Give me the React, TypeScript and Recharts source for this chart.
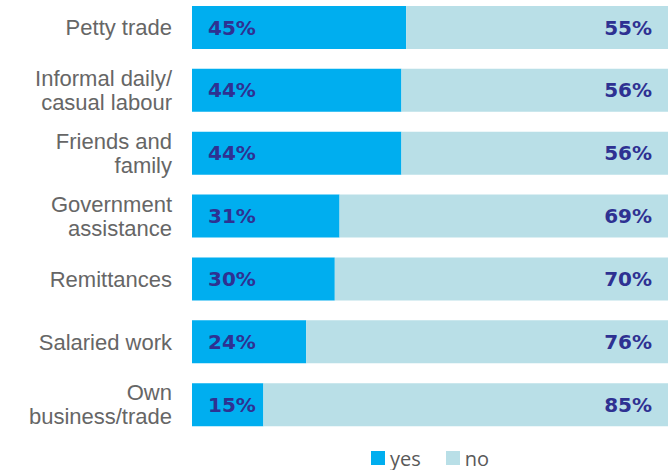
import React from "react";
import { BarChart, Bar, XAxis, YAxis, LabelList } from "recharts";

const categories = [
  "Petty trade",
  "Informal daily/\ncasual labour",
  "Friends and\nfamily",
  "Government\nassistance",
  "Remittances",
  "Salaried work",
  "Own\nbusiness/trade",
];
const yesValues = [45, 44, 44, 31, 30, 24, 15];
const noValues = [55, 56, 56, 69, 70, 76, 85];
const seriesNames = ["yes", "no"];

const YES_COLOR = "#00AEEF";
const NO_COLOR = "#B9DFE7";
const LABEL_COLOR = "#2E3192";

const data = categories.map((c, i) => ({ name: c, yes: yesValues[i], no: noValues[i] }));

const CategoryTick = (props: any) => {
  const { x, y, payload } = props;
  const lines = String(payload.value).split("\n");
  const lh = 24;
  const start = -((lines.length - 1) * lh) / 2;
  return (
    <g transform={`translate(${x},${y})`}>
      {lines.map((l: string, i: number) => (
        <text
          key={i}
          x={0}
          y={start + i * lh}
          dy="0.36em"
          textAnchor="end"
          fill="#666666"
          fontFamily="'Liberation Sans', Arial, sans-serif"
          fontSize={22}
        >
          {l}
        </text>
      ))}
    </g>
  );
};

const LegendContent = () => (
  <div
    style={{
      display: "flex",
      justifyContent: "center",
      alignItems: "center",
      fontFamily: "'Open Sans', sans-serif",
      fontSize: 20,
      color: "#595959",
      height: 28,
    }}
  >
    {seriesNames.map((n, i) => (
      <div key={n} style={{ display: "flex", alignItems: "center", marginLeft: i ? 25 : 0 }}>
        <span style={{ width: 14, height: 14, background: i ? NO_COLOR : YES_COLOR, display: "inline-block", marginRight: 5 }} />
        <span>{n}</span>
      </div>
    ))}
  </div>
);

export default function App() {
  return (
    <div style={{ position: "absolute", left: 0, top: 0, width: 668, height: 470, background: "#fff", overflow: "hidden" }}>
      <BarChart
        width={668}
        height={470}
        data={data}
        layout="vertical"
        margin={{ top: -4, right: 0, bottom: 34, left: 0 }}
        barCategoryGap={10}
      >
        <XAxis type="number" domain={[0, 100]} hide />
        <YAxis
          type="category"
          dataKey="name"
          width={192}
          axisLine={false}
          tickLine={false}
          tick={<CategoryTick />}
          tickMargin={14}
          interval={0}
        />
        <Bar dataKey="yes" stackId="a" fill={YES_COLOR} isAnimationActive={false}>
          <LabelList
            dataKey="yes"
            position="insideLeft"
            offset={16}
            formatter={(v: any) => `${v}%`}
            fill={LABEL_COLOR}
            style={{ fontFamily: "'DejaVu Sans', sans-serif", fontWeight: 700, fontSize: 20 }}
          />
        </Bar>
        <Bar dataKey="no" stackId="a" fill={NO_COLOR} isAnimationActive={false}>
          <LabelList
            dataKey="no"
            position="insideRight"
            offset={16}
            formatter={(v: any) => `${v}%`}
            fill={LABEL_COLOR}
            style={{ fontFamily: "'DejaVu Sans', sans-serif", fontWeight: 700, fontSize: 20 }}
          />
        </Bar>
      </BarChart>
      <div style={{ position: "absolute", left: 192, top: 444, width: 476 }}>
        <LegendContent />
      </div>
    </div>
  );
}
